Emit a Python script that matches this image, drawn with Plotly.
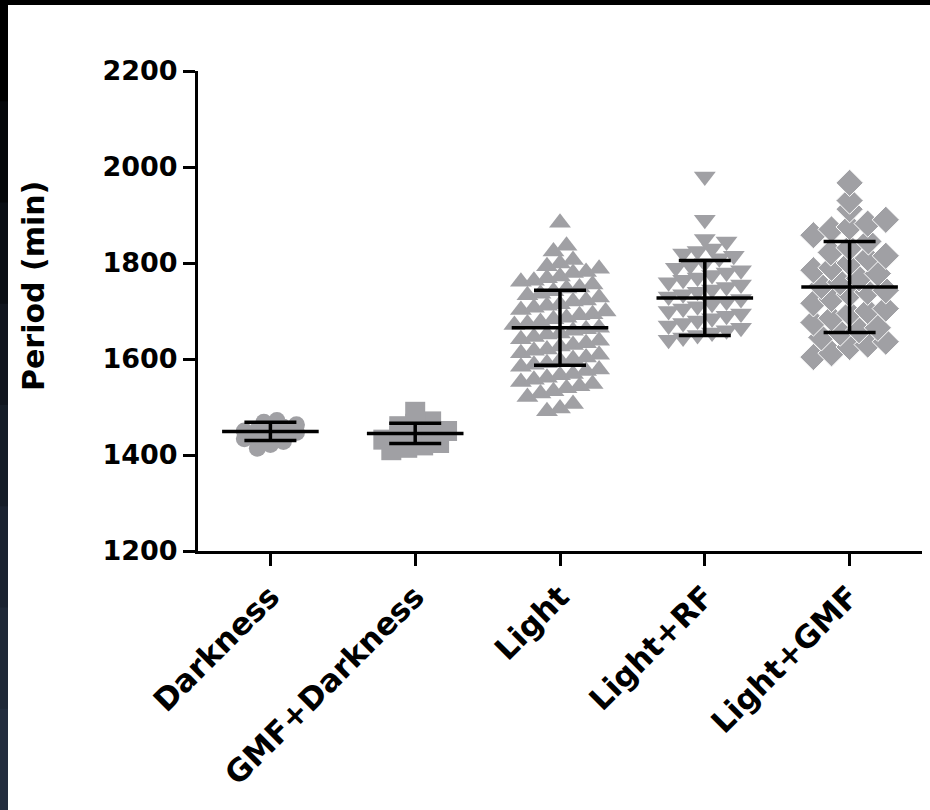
import plotly.graph_objects as go

# ---------------- data ----------------
categories = ["Darkness", "GMF+Darkness", "Light", "Light+RF", "Light+GMF"]

darkness = [1472, 1468, 1463, 1458, 1455, 1452, 1450, 1447, 1444, 1441,
            1438, 1434, 1428, 1422, 1414]
gmf_darkness = [1490, 1470, 1465, 1460, 1450, 1448, 1445, 1440, 1432, 1425,
                1420, 1415, 1410]
light = [1884, 1836, 1824, 1806, 1799, 1793, 1788, 1781, 1779, 1772, 1768,
         1763, 1761, 1755, 1749, 1747, 1741, 1736, 1733, 1728, 1722, 1720,
         1714, 1711, 1707, 1702, 1699, 1693, 1691, 1686, 1683, 1677, 1674,
         1671, 1665, 1662, 1659, 1653, 1651, 1646, 1641, 1638, 1633, 1629,
         1626, 1620, 1617, 1612, 1609, 1603, 1600, 1597, 1591, 1588, 1584,
         1578, 1575, 1569, 1566, 1561, 1557, 1552, 1548, 1543, 1539, 1533,
         1528, 1521, 1506, 1497, 1491]
light_rf = [1980, 1890, 1850, 1845, 1830, 1825, 1820, 1815, 1810, 1800,
            1795, 1790, 1785, 1780, 1775, 1770, 1765, 1760, 1755, 1750,
            1745, 1740, 1735, 1730, 1725, 1720, 1715, 1710, 1705, 1700,
            1695, 1690, 1685, 1680, 1675, 1670, 1665, 1660, 1655, 1650,
            1645, 1640]
light_gmf = [1967, 1930, 1912, 1890, 1882, 1875, 1870, 1858, 1845, 1832,
             1822, 1815, 1810, 1800, 1790, 1785, 1778, 1768, 1760, 1752,
             1743, 1740, 1735, 1725, 1716, 1705, 1700, 1695, 1685, 1676,
             1665, 1660, 1655, 1645, 1636, 1630, 1625, 1612, 1604]

means = [1449, 1445, 1665, 1727, 1750]
sds = [19, 21, 78, 78, 95]

y_ticks = [1200, 1400, 1600, 1800, 2000, 2200]

# ---------------- styling ----------------
GREY = "#a0a0a4"
FONT = "DejaVu Sans"
# (values, symbol, size, outline width, bin width in data units,
#  step in x units, max half width)
groups = [
    (darkness, "circle", 17, 0, 18, 0.09, 0.23),
    (gmf_darkness, "square", 20, 0, 22, 0.11, 0.23),
    (light, "triangle-up", 19, 0, 30, 0.09, 0.33),
    (light_rf, "triangle-down", 19, 0, 30, 0.10, 0.31),
    (light_gmf, "diamond", 21, 1, 36, 0.13, 0.25),
]


def swarm(vals, bin_w, step, maxhalf):
    """Column-scatter layout: points in the same value bin sit side by side."""
    vs = sorted(vals)
    lo = vs[0]
    bins = {}
    for v in vs:
        bins.setdefault(int((v - lo) // bin_w), []).append(v)
    xs, ys = [], []
    for key in sorted(bins):
        b = bins[key]
        k = len(b)
        s = step if k < 2 else min(step, 2 * maxhalf / (k - 1))
        for j, v in enumerate(b):
            xs.append((j - (k - 1) / 2) * s)
            ys.append(v)
    return xs, ys


fig = go.Figure()
for gi, (vals, sym, size, lw, bw, st, mh) in enumerate(groups):
    off, yy = swarm(vals, bw, st, mh)
    fig.add_trace(go.Scatter(
        x=[gi + o for o in off], y=yy, mode="markers",
        marker=dict(symbol=sym, size=size, color=GREY,
                    line=dict(width=lw, color="white")),
        showlegend=False, hoverinfo="y"))

fig.add_trace(go.Scatter(
    x=list(range(len(categories))), y=means, mode="markers",
    marker=dict(symbol="line-ew", size=69, color="black",
                line=dict(width=3.5, color="black")),
    error_y=dict(type="data", array=sds, visible=True, width=26,
                 thickness=3.5, color="black"),
    showlegend=False, hoverinfo="y"))

L, R, T, B = 198, 8, 71, 259
W, H = 930, 810
pw, ph = W - L - R, H - T - B


def px(x):
    return (x - L) / pw


def py(y):
    return (H - B - y) / ph


shapes = []
# dark frame: left band with a dark gradient (overlapping rects), top band
band_cols = ["#000000", "#05070a", "#0a0e14", "#10151e", "#151c27",
             "#1a2230", "#1f2837", "#232d3e"]
nb = len(band_cols)
for i, c in enumerate(band_cols):
    shapes.append(dict(type="rect", xref="paper", yref="paper",
                       x0=px(0), x1=px(8), y0=py(H + 2),
                       y1=py(H * i / nb), fillcolor=c, line=dict(width=0),
                       layer="above"))
shapes.append(dict(type="rect", xref="paper", yref="paper", x0=px(0), x1=px(W),
                   y0=py(5), y1=py(-2), fillcolor="#000000", line=dict(width=0),
                   layer="above"))

fig.update_layout(
    width=W, height=H, autosize=False,
    margin=dict(l=L, r=R, t=T, b=B, pad=0),
    paper_bgcolor="white", plot_bgcolor="white",
    shapes=shapes,
    annotations=[dict(text="Period (min)", xref="paper", yref="paper",
                      x=px(33), y=py(286), xanchor="center", yanchor="middle",
                      textangle=-90, showarrow=False,
                      font=dict(family=FONT, size=30, color="black",
                                weight="bold"))],
)
fig.update_xaxes(
    range=[-0.5, 4.5], tickvals=list(range(len(categories))),
    ticktext=categories, tickangle=-45, showline=True, linewidth=3,
    linecolor="black", ticks="outside", ticklen=12, tickwidth=3,
    tickcolor="black", showgrid=False, zeroline=False,
    tickfont=dict(family=FONT, size=31, color="black", weight="bold"))
fig.update_yaxes(
    range=[1200, 2200], tickvals=y_ticks, showline=True, linewidth=3,
    linecolor="black", ticks="outside", ticklen=12, tickwidth=3,
    tickcolor="black", showgrid=False, zeroline=False,
    tickfont=dict(family=FONT, size=27, color="black", weight="bold"))

fig.write_html("out.html",
               config={"displayModeBar": False},
               post_script="document.body.style.margin='0';"
                           "document.body.style.padding='0';"
                           "document.body.style.overflow='hidden';")
